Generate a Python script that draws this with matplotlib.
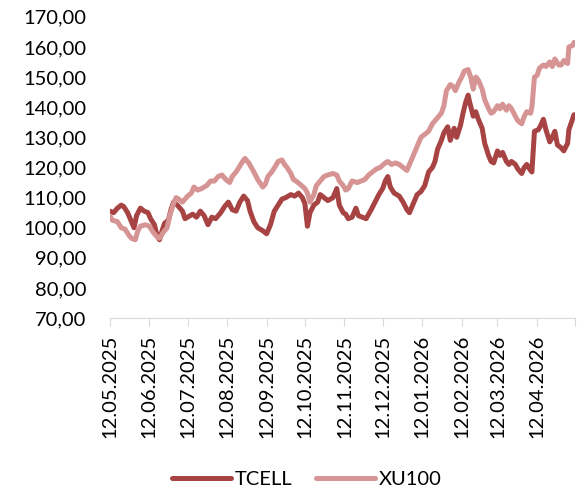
import pandas as pd
import matplotlib.pyplot as plt
from matplotlib.ticker import FuncFormatter

plt.rcParams['font.family'] = ['Lato', 'DejaVu Sans']

baslangic = pd.Timestamp('2025-05-12')

# TCELL: gun sayisi (12.05.2025'ten itibaren) ve endeks degeri
tcell_gun = [0, 3, 6, 9, 11, 14, 17, 19, 21, 24, 27, 30, 32, 35, 37, 39, 41, 43, 46, 48,
             50, 53, 57, 59, 61, 65, 68, 71, 74, 77, 80, 83, 87, 90, 93, 96, 99, 102, 105, 108,
             110, 113, 116, 120, 123, 126, 129, 132, 135, 138, 142, 145, 148, 151, 153, 155, 157, 160, 163, 165,
             168, 171, 175, 178, 180, 183, 185, 187, 190, 193, 195, 198, 201, 205, 208, 211, 214, 216, 218, 220,
             223, 227, 230, 233, 235, 238, 241, 244, 247, 250, 253, 255, 257, 260, 262, 265, 267, 270, 272, 275,
             277, 279, 281, 282, 285, 287, 289, 292, 294, 297, 299, 301, 304, 306, 308, 311, 313, 315, 318, 320,
             323, 325, 327, 330, 331, 333, 336, 338, 340, 342, 345, 347, 349, 351, 354, 356, 359, 360, 362, 364]
tcell = [105.5, 105, 106.5, 107.5, 107, 105, 102, 100, 104, 106.5, 105.5, 105, 103, 101, 97.5, 96, 99, 101.5, 102.5, 106,
         108.5, 107.5, 105.5, 103, 103.5, 104.5, 103.5, 105.5, 104, 101, 103.5, 103, 105, 107, 108.5, 106, 105.5, 108.5, 110.5, 109,
         105.5, 102, 100, 99, 98, 101, 105.5, 107.5, 109.5, 110, 111, 110.5, 111.5, 110, 108, 100.5, 105, 107.5, 108.5, 111,
         110, 109, 110, 113, 107.5, 105, 104.5, 103, 103.5, 106.5, 104, 103.5, 103, 106, 108.5, 111, 113, 115.5, 117, 113.5,
         111.5, 110.5, 108.5, 106, 105, 108, 111, 112, 114, 118.5, 120, 122, 126, 129, 131.5, 133.5, 129, 133, 130, 134,
         138, 141.5, 144, 142, 137, 138.5, 136, 133, 128, 124, 122, 121.5, 125.5, 124, 125, 122, 121, 122, 121, 119.5,
         118, 120, 121, 119, 118.5, 132, 132.5, 134, 136, 132.5, 128.5, 130, 132, 127.5, 126.5, 125.5, 128, 132.5, 135, 137.5]

# XU100
xu_gun = [0, 2, 6, 9, 12, 15, 17, 20, 22, 24, 28, 31, 34, 37, 39, 42, 45, 47, 50, 52,
          54, 57, 59, 61, 64, 66, 69, 72, 76, 79, 82, 85, 88, 91, 94, 96, 99, 102, 105, 106,
          109, 111, 113, 116, 120, 122, 124, 127, 130, 132, 135, 137, 139, 142, 144, 146, 149, 153, 155, 157,
          160, 162, 165, 168, 171, 175, 178, 180, 183, 185, 187, 190, 194, 197, 200, 203, 206, 209, 212, 216,
          218, 221, 224, 227, 230, 233, 235, 238, 241, 244, 247, 250, 253, 256, 260, 262, 264, 267, 269, 271,
          274, 276, 278, 281, 283, 285, 287, 289, 292, 294, 297, 299, 301, 304, 306, 308, 311, 313, 315, 318,
          320, 323, 325, 327, 330, 331, 333, 335, 337, 340, 342, 345, 347, 349, 352, 354, 356, 359, 360, 363, 364]
xu100 = [104, 102.5, 102, 100, 99.5, 97.5, 96.5, 96, 99, 100.5, 101, 100.5, 98.5, 97, 96.5, 98.5, 100, 104, 108, 110,
         109.5, 108.5, 109.5, 110.5, 111.5, 113.5, 112.5, 113, 114, 115.5, 115.5, 117, 117.5, 116, 115, 117, 118.5, 120.5, 122.5, 123,
         121.5, 120, 118.5, 116, 113.5, 114.5, 117, 118.5, 120.5, 122, 122.5, 121, 120, 118, 116, 115.5, 114.5, 113, 111.5, 108.5,
         111, 114, 115.5, 117, 117.5, 118, 117.5, 115.5, 114, 112.5, 113, 115.5, 115, 115.5, 116, 117.5, 118.5, 119.5, 120, 121.5,
         122, 121, 121.5, 121, 120, 119, 121, 124, 127, 130, 131, 132, 134.5, 136, 138, 140.5, 145.5, 147.5, 147, 145.5,
         148.5, 150, 152, 152.5, 150, 146, 150, 149, 146, 142.5, 139.5, 138, 138.5, 140.5, 139.5, 141, 139, 140.5, 139.5, 137,
         135.5, 134.5, 137, 138.5, 138, 140, 150, 150.5, 153, 154, 153.5, 155, 153.5, 156, 154, 154, 155.5, 154.5, 160, 160.5, 161.5]

tcell_tarih = baslangic + pd.to_timedelta(tcell_gun, unit='D')
xu_tarih = baslangic + pd.to_timedelta(xu_gun, unit='D')

fig = plt.figure(figsize=(5.87, 4.94), dpi=100)
ax = fig.add_axes([0.187, 0.356, 0.793, 0.61])

ax.plot(tcell_tarih, tcell, color='#A84343', linewidth=3.6, label='TCELL', solid_capstyle='round')
ax.plot(xu_tarih, xu100, color='#D69494', linewidth=3.6, label='XU100', solid_capstyle='round')

# eksenler
ax.set_ylim(70, 170)
ax.set_yticks(range(70, 171, 10))
ax.yaxis.set_major_formatter(FuncFormatter(lambda v, p: f'{v:.2f}'.replace('.', ',')))
ax.set_xlim(baslangic, pd.Timestamp('2026-05-12'))
aylar = pd.date_range('2025-05-12', '2026-05-12', freq=pd.DateOffset(months=1))
ax.set_xticks(aylar)
ax.set_xticklabels([d.strftime('%d.%m.%Y') for d in aylar[:-1]] + [''], rotation=90)

for s in ['top', 'right', 'left']:
    ax.spines[s].set_visible(False)
ax.spines['bottom'].set_color('#D9D9D9')
ax.tick_params(axis='y', length=0, labelsize=14.5, pad=17)
ax.tick_params(axis='x', length=6, color='#D9D9D9', labelsize=14.5, pad=6)

fig.legend(loc='lower center', bbox_to_anchor=(0.523, -0.025), ncol=2, frameon=False,
           fontsize=14.5, handlelength=2.9, columnspacing=1.2, handletextpad=0.2)

plt.savefig('out.png', dpi=100)
